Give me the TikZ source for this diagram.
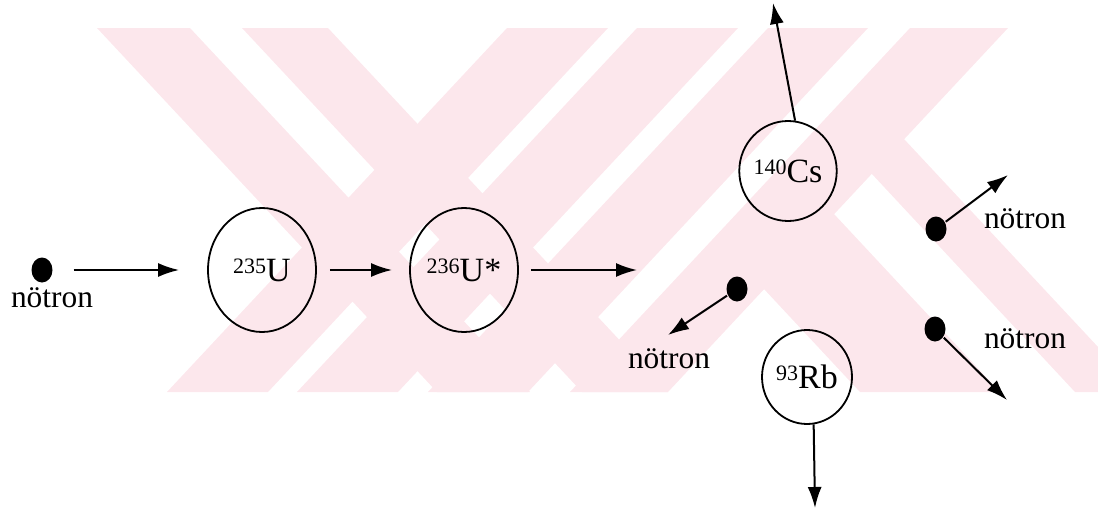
\documentclass[tikz,border=0pt]{standalone}
\usepackage{fontspec}
\setmainfont{Liberation Serif}
\usetikzlibrary{shapes.geometric,arrows.meta}
\definecolor{wmpink}{RGB}{252,231,236}
\newcommand{\nucl}[2]{\raisebox{4pt}{\fontsize{11}{11}\selectfont #1}#2}

\begin{document}
\begin{tikzpicture}[x=0.5pt, y=-0.5pt, line width=1pt,
    >={Latex[length=10.5pt,width=7pt]},
    nucleus/.style={draw, ellipse, line width=0.9pt, inner sep=0pt,
      font=\fontsize{17}{17}\selectfont},
    neutron/.style={fill=black, ellipse, inner sep=0pt,
      minimum width=10.5pt, minimum height=12.5pt},
    lbl/.style={anchor=base, inner sep=0pt, font=\fontsize{15.7}{16}\selectfont}]
  \useasboundingbox (0,0) rectangle (1098,520);

  % pale bands behind everything
  \begin{scope}
    \clip (0,28) rectangle (1098,392);
    \fill[wmpink] (97,28) -- (190,28) -- (530,392) -- (437,392) -- cycle;
    \fill[wmpink] (242,28) -- (328,28) -- (668,392) -- (582,392) -- cycle;
    \fill[wmpink] (507,28) -- (608,28) -- (268,392) -- (167,392) -- cycle;
    \fill[wmpink] (637,28) -- (738,28) -- (398,392) -- (297,392) -- cycle;
    \fill[wmpink] (768,28) -- (868,28) -- (528,392) -- (428,392) -- cycle;
    \fill[wmpink] (910,28) -- (1008,28) -- (668,392) -- (570,392) -- cycle;
    \fill[wmpink] (750,274) -- (820,199) -- (1000,392) -- (860,392) -- cycle;
    \fill[wmpink] (858,159) -- (890,124) -- (1140,392) -- (1075,392) -- cycle;
  \end{scope}

  % incoming neutron and the compound nucleus
  \node[neutron] (n0) at (42,270) {};
  \node[lbl] (l0) at (52,307) {nötron};
  \node[nucleus, minimum width=54pt, minimum height=62pt] (u235) at (262,270) {\nucl{235}{U}};
  \node[nucleus, minimum width=54pt, minimum height=62pt] (u236) at (464,270) {\nucl{236}{U*}};
  \coordinate (split) at (637,270);

  \draw[->, shorten <=10pt, shorten >=14pt] (n0) -- (u235);
  \draw[->, shorten <=6.5pt, shorten >=8.5pt] (u235) -- (u236);
  \draw[->, shorten <=6pt] (u236) -- (split);

  % fission products
  \node[nucleus, minimum width=41pt, minimum height=50pt] (cs) at (788,171) {\nucl{140}{Cs}};
  \coordinate (csend) at (773,3);
  \node[nucleus, minimum width=45pt, minimum height=47pt] (rb) at (807,377) {\nucl{93}{Rb}};
  \coordinate (rbend) at (815,508);
  \draw[->] (cs.82) -- (csend);
  \draw[->] (rb.-82) -- (rbend);

  % emitted neutrons
  \node[neutron] (n1) at (737,289) {};
  \coordinate (n1end) at (668,335);
  \node[lbl] (l1) at (669,368) {nötron};
  \node[neutron] (n2) at (936,229) {};
  \coordinate (n2end) at (1008,175);
  \node[lbl] (l2) at (1025,228) {nötron};
  \node[neutron] (n3) at (935,329) {};
  \coordinate (n3end) at (1007,400);
  \node[lbl] (l3) at (1025,348) {nötron};

  \draw[->] (n1) -- (n1end);
  \draw[->] (n2) -- (n2end);
  \draw[->] (n3) -- (n3end);
\end{tikzpicture}
\end{document}
